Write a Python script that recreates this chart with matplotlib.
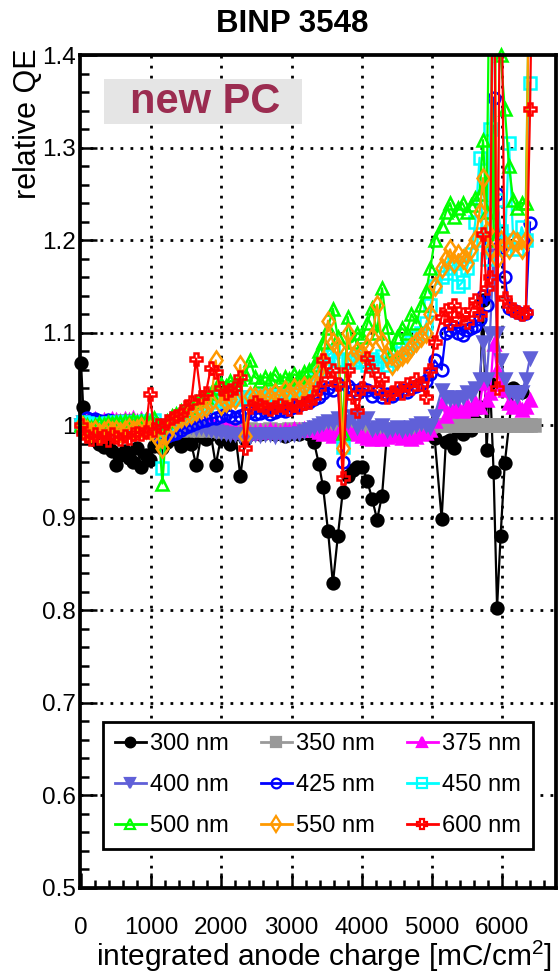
import numpy as np
import matplotlib
matplotlib.use("Agg")
import matplotlib.pyplot as plt
from matplotlib.lines import Line2D
from matplotlib.patches import Rectangle
from matplotlib.ticker import MultipleLocator

plt.rcParams['font.family'] = ['Liberation Sans', 'DejaVu Sans']
plt.rcParams['mathtext.fontset'] = 'custom'
plt.rcParams['mathtext.rm'] = 'Liberation Sans'

nan = np.nan

# integrated anode charge [mC/cm^2]
charge = [0, 30, 80, 140, 200, 260, 320, 380, 440, 500,
          560, 620, 680, 740, 800, 860, 920, 980, 1040, 1100,
          1160, 1220, 1290, 1360, 1430, 1500, 1570, 1640, 1710, 1780,
          1850, 1920, 1990, 2060, 2130, 2200, 2270, 2340, 2410, 2480,
          2550, 2620, 2690, 2760, 2830, 2900, 2970, 3040, 3110, 3180,
          3250, 3320, 3390, 3450, 3520, 3590, 3660, 3730, 3800, 3870,
          3940, 4010, 4080, 4150, 4220, 4290, 4360, 4430, 4500, 4570,
          4640, 4710, 4780, 4850, 4920, 4980, 5040, 5140, 5200, 5260,
          5320, 5380, 5440, 5500, 5560, 5620, 5680, 5730, 5780, 5830,
          5880, 5930, 5980, 6040, 6100, 6160, 6220, 6280, 6340, 6400,
          6450]

qe_300 = [1.067, 1.020, 0.995, 0.988, 0.984, 0.980, 0.976, 0.978, 0.972, 0.957,
          0.968, 0.972, 0.965, 0.960, 0.975, 0.955, 0.968, 0.962, 0.978, 0.985,
          0.975, 0.982, 0.988, 0.985, 0.978, 0.985, 0.980, 0.957, 0.988, 0.985,
          0.990, 0.957, 0.985, 0.988, 0.980, 0.990, 0.945, 0.985, 0.990, 0.992,
          0.990, 0.992, 0.993, 0.990, 0.992, 0.988, 0.990, 0.992, 0.990, 0.993,
          0.990, 0.982, 0.958, 0.933, 0.886, 0.829, 0.880, 0.928, 0.945, 0.952,
          0.955, 0.955, 0.940, 0.920, 0.898, 0.924, 0.990, 0.995, 0.992, 0.995,
          0.993, 0.996, 0.995, 0.992, 0.995, 0.990, 0.986, 0.899, 0.982, 0.984,
          0.975, 0.995, 0.990, 1.002, 0.995, 1.005, 1.020, 1.135, 0.973, 1.046,
          0.950, 0.803, 0.880, 0.959, 1.000, 1.040, 1.037, 1.036, nan, nan,
          nan]

qe_350 = [1.000, 0.998, 0.996, 0.995, 0.996, 0.994, 0.995, 0.996, 0.995, 0.994,
          0.995, 0.996, 0.995, 0.994, 0.996, 0.995, 0.996, 0.995, 0.994, 0.993,
          0.992, 0.994, 0.995, 0.996, 0.995, 0.996, 0.997, 0.995, 0.996, 0.995,
          0.996, 0.995, 0.994, 0.995, 0.996, 0.995, 0.994, 0.995, 0.996, 0.995,
          0.994, 0.995, 0.996, 0.995, 0.994, 0.995, 0.996, 0.995, 0.996, 0.995,
          0.996, 0.995, 0.994, 0.995, 0.996, 0.995, 0.994, 0.993, 0.995, 0.996,
          0.995, 0.996, 0.995, 0.994, 0.995, 0.996, 0.995, 0.996, 0.995, 0.996,
          0.996, 0.997, 0.996, 0.997, 0.998, 0.999, 1.000, 1.000, 1.000, 1.000,
          1.000, 1.000, 1.000, 1.000, 1.000, 1.000, 1.000, 1.000, 1.000, 1.000,
          1.000, 1.000, 1.000, 1.000, 1.000, 1.000, 1.000, 1.000, 1.000, 1.000,
          1.000]

qe_375 = [1.000, 1.004, 1.006, 1.005, 1.007, 1.004, 1.006, 1.005, 1.007, 1.006,
          1.005, 1.007, 1.006, 1.008, 1.005, 1.007, 1.006, 1.004, 1.003, 1.000,
          0.998, 1.002, 1.004, 1.003, 1.005, 1.002, 1.004, 1.003, 1.002, 1.004,
          1.003, 1.001, 1.000, 0.998, 0.996, 0.995, 0.993, 0.994, 0.992, 0.993,
          0.994, 0.993, 0.995, 0.994, 0.993, 0.995, 0.994, 0.996, 0.995, 0.996,
          0.997, 0.995, 0.993, 0.990, 0.992, 0.988, 0.990, 0.992, 0.995, 0.990,
          0.993, 0.988, 0.986, 0.985, 0.987, 0.985, 0.987, 0.990, 0.988, 0.986,
          0.988, 0.985, 0.987, 0.990, 0.992, 0.995, 1.005, 1.024, 1.010, 1.015,
          1.018, 1.020, 1.015, 1.022, 1.018, 1.025, 1.020, 1.046, 1.027, 1.035,
          1.088, 1.060, 1.045, 1.038, 1.024, 1.020, 1.024, 1.016, 1.020, 1.027,
          nan]

qe_400 = [1.000, 1.003, 1.004, 1.003, 1.005, 1.002, 1.004, 1.003, 1.004, 1.002,
          1.003, 1.005, 1.004, 1.003, 1.002, 1.004, 1.003, 1.002, 1.000, 0.998,
          0.995, 0.998, 1.000, 0.999, 0.998, 1.000, 0.999, 0.997, 0.998, 0.996,
          0.995, 0.994, 0.993, 0.992, 0.990, 0.991, 0.989, 0.990, 0.988, 0.990,
          0.989, 0.991, 0.990, 0.988, 0.990, 0.989, 0.991, 0.990, 0.992, 0.994,
          0.996, 0.998, 1.000, 1.002, 1.005, 1.003, 1.008, 1.000, 1.005, 1.010,
          0.998, 1.004, 1.008, 0.996, 0.998, 1.000, 0.995, 0.996, 0.998, 0.995,
          0.997, 0.998, 1.000, 1.002, 1.000, 0.998, 1.010, 1.038, 1.030, 1.028,
          1.030, 1.028, 1.030, 1.036, 1.034, 1.040, 1.050, 1.090, 1.050, 1.100,
          1.184, 1.100, 1.070, 1.050, 1.036, 1.036, 1.032, 1.036, 1.050, 1.073,
          nan]

qe_425 = [1.000, 1.005, 1.008, 1.006, 1.007, 1.005, 1.004, 1.006, 1.005, 1.004,
          1.003, 1.004, 1.002, 1.003, 1.004, 1.002, 1.000, 0.998, 0.992, 0.988,
          0.986, 0.988, 0.990, 0.992, 0.995, 0.998, 1.000, 1.002, 1.005, 1.006,
          1.008, 1.008, 1.010, 1.012, 1.010, 1.008, 1.010, 1.012, 1.014, 1.012,
          1.013, 1.015, 1.012, 1.014, 1.016, 1.015, 1.018, 1.020, 1.022, 1.024,
          1.025, 1.028, 1.030, 1.035, 1.040, 1.038, 1.045, 0.960, 1.042, 1.038,
          1.035, 1.040, 1.038, 1.032, 1.036, 1.030, 1.034, 1.032, 1.035, 1.038,
          1.036, 1.040, 1.042, 1.045, 1.048, 1.055, 1.070, 1.060, 1.100, 1.103,
          1.106, 1.100, 1.097, 1.103, 1.105, 1.107, 1.115, 1.140, 1.130, 1.200,
          1.354, 1.250, 1.192, 1.160, 1.127, 1.125, 1.122, 1.120, 1.121, 1.219,
          nan]

qe_450 = [1.000, 1.003, 1.002, 1.000, 1.001, 0.999, 1.000, 1.002, 1.001, 1.003,
          1.002, 1.004, 1.003, 1.002, 1.004, 1.003, 1.005, 1.004, 1.006, 0.995,
          0.954, 1.000, 1.005, 1.008, 1.010, 1.012, 1.015, 1.018, 1.020, 1.022,
          1.025, 1.028, 1.026, 1.030, 1.028, 1.032, 1.030, 1.028, 1.030, 1.032,
          1.030, 1.033, 1.031, 1.034, 1.032, 1.035, 1.036, 1.038, 1.040, 1.042,
          1.045, 1.050, 1.060, 1.065, 1.075, 1.080, 1.070, 0.976, 1.072, 1.068,
          1.075, 1.070, 1.065, 1.072, 1.068, 1.075, 1.065, 1.070, 1.078, 1.082,
          1.085, 1.090, 1.095, 1.100, 1.110, 1.130, 1.150, 1.160, 1.165, 1.170,
          1.175, 1.150, 1.155, 1.170, 1.185, 1.220, 1.289, 1.200, 1.180, 1.320,
          1.450, 1.243, 1.210, 1.190, 1.305, 1.200, 1.190, 1.214, 1.200, 1.370,
          nan]

qe_500 = [1.000, 1.002, 1.000, 0.998, 1.000, 1.002, 1.001, 1.003, 1.002, 1.004,
          1.003, 1.005, 1.004, 1.006, 1.003, 1.005, 1.006, 1.004, 1.008, 1.000,
          0.937, 1.005, 1.010, 1.012, 1.015, 1.018, 1.020, 1.025, 1.028, 1.030,
          1.035, 1.040, 1.045, 1.042, 1.048, 1.045, 1.050, 1.055, 1.070, 1.052,
          1.048, 1.052, 1.050, 1.055, 1.048, 1.052, 1.050, 1.055, 1.052, 1.058,
          1.060, 1.065, 1.080, 1.090, 1.105, 1.126, 1.095, 0.992, 1.117, 1.090,
          1.100, 1.095, 1.110, 1.127, 1.100, 1.148, 1.106, 1.080, 1.095, 1.105,
          1.100, 1.120, 1.110, 1.130, 1.145, 1.170, 1.200, 1.215, 1.230, 1.240,
          1.225, 1.235, 1.240, 1.230, 1.238, 1.245, 1.250, 1.308, 1.230, 1.550,
          1.200, 1.550, 1.400, 1.342, 1.280, 1.243, 1.235, 1.240, 1.240, 1.550,
          nan]

qe_550 = [1.000, 0.998, 0.995, 0.993, 0.995, 0.992, 0.994, 0.996, 0.994, 0.995,
          0.993, 0.995, 0.997, 0.995, 0.996, 0.998, 0.996, 0.995, 0.992, 0.985,
          0.975, 0.990, 1.000, 1.005, 1.008, 1.010, 1.012, 1.015, 1.018, 1.020,
          1.025, 1.070, 1.022, 1.025, 1.028, 1.028, 1.065, 0.988, 1.032, 1.030,
          1.028, 1.032, 1.030, 1.035, 1.032, 1.038, 1.035, 1.040, 1.038, 1.042,
          1.040, 1.045, 1.060, 1.070, 1.113, 1.090, 1.085, 0.975, 1.100, 1.075,
          1.080, 1.078, 1.085, 1.095, 1.130, 1.090, 1.075, 1.065, 1.070, 1.075,
          1.078, 1.085, 1.090, 1.095, 1.100, 1.120, 1.150, 1.170, 1.180, 1.190,
          1.175, 1.185, 1.180, 1.175, 1.190, 1.200, 1.230, 1.267, 1.210, 1.190,
          1.550, 1.180, 1.200, 1.195, 1.190, 1.200, 1.198, 1.190, 1.200, 1.600,
          nan]

qe_600 = [1.000, 0.992, 0.988, 0.985, 0.990, 0.986, 0.988, 0.984, 0.990, 0.987,
          0.985, 0.988, 0.986, 0.990, 0.992, 0.990, 0.993, 1.034, 0.995, 1.000,
          0.998, 1.005, 1.008, 1.010, 1.012, 1.020, 1.025, 1.072, 1.030, 1.035,
          1.062, 1.058, 1.040, 1.035, 1.038, 1.040, 1.052, 0.975, 1.020, 1.025,
          1.022, 1.020, 1.018, 1.020, 1.022, 1.020, 1.018, 1.022, 1.020, 1.024,
          1.025, 1.030, 1.040, 1.070, 1.050, 1.060, 1.045, 0.943, 1.060, 1.030,
          1.015, 1.040, 1.073, 1.060, 1.040, 1.050, 1.030, 1.035, 1.040, 1.035,
          1.045, 1.040, 1.050, 1.045, 1.030, 1.060, 1.090, 1.117, 1.125, 1.110,
          1.130, 1.115, 1.120, 1.112, 1.125, 1.135, 1.120, 1.207, 1.148, 1.160,
          1.600, 1.040, 1.600, 1.137, 1.130, 1.125, 1.122, 1.120, 1.122, 1.342,
          1.600]

labels = ['300 nm', '350 nm', '375 nm', '400 nm', '425 nm',
          '450 nm', '500 nm', '550 nm', '600 nm']
series = [qe_300, qe_350, qe_375, qe_400, qe_425, qe_450, qe_500, qe_550, qe_600]
colors = ['black', '#999999', '#ff00ff', '#6060d8', '#0000ff',
          '#00ffff', '#00ff00', '#ff9900', '#ff0000']
markers = ['o', 's', '^', 'v', 'o', 's', '^', 'd', 'P']
filled = [True, True, True, True, False, False, False, False, False]

YMIN, YMAX = 0.5, 1.4
XMIN, XMAX = -15, 6770

fig = plt.figure(figsize=(5.58, 9.75), dpi=100)
ax = fig.add_axes([80 / 558, 1 - 888 / 975, 476 / 558, 833 / 975])

x = np.array(charge, dtype=float)
handles = []
for i, (lab, vals, col, mk, fill) in enumerate(zip(labels, series, colors, markers, filled)):
    y = np.array(vals, dtype=float)
    z = 3 + i
    ax.plot(x, y, color=col, lw=1.6, zorder=z)
    ok = np.isfinite(y) & (y >= YMIN) & (y <= YMAX)
    size = 9.5 if mk == 'd' else 8.5
    ax.plot(x[ok], y[ok], ls='none', marker=mk, markersize=size,
            markeredgecolor=col, markeredgewidth=1.8,
            markerfacecolor=col if fill else 'none', clip_on=False, zorder=z)
    handles.append(Line2D([], [], color=col, lw=2.0, ls='-', marker=mk,
                          markersize=size - 1.5, markeredgecolor=col,
                          markeredgewidth=1.6,
                          markerfacecolor=col if fill else 'none'))

ax.set_xlim(XMIN, XMAX)
ax.set_ylim(YMIN, YMAX)

ax.set_xticks(np.arange(0, 7000, 1000))
ax.xaxis.set_minor_locator(MultipleLocator(200))
yt = np.round(np.arange(0.5, 1.41, 0.1), 1)
ax.set_yticks(yt)
ax.set_yticklabels(['1' if abs(v - 1) < 1e-9 else f'{v:.1f}' for v in yt])
ax.yaxis.set_minor_locator(MultipleLocator(0.02))

ax.tick_params(which='both', direction='in', top=False, right=False,
               labelsize=17.5, width=1.8, colors='black')
ax.tick_params(axis='x', which='major', length=11, pad=21)
ax.tick_params(axis='x', which='minor', length=5.5)
ax.tick_params(axis='y', which='major', length=12, pad=3)
ax.tick_params(axis='y', which='minor', length=6.5)

for s in ax.spines.values():
    s.set_linewidth(2.7)
    s.set_zorder(20)

for gx in range(1000, 7000, 1000):
    ax.axvline(gx, color='black', lw=2.0, dashes=(1, 2.6), zorder=1)
for gy in yt[1:-1]:
    ax.axhline(gy, color='black', lw=2.0, dashes=(1, 2.6), zorder=1)

order = [0, 3, 6, 1, 4, 7, 2, 5, 8]
leg = fig.legend([handles[k] for k in order], [labels[k] for k in order],
                 ncol=3, loc='lower left', mode='expand',
                 bbox_to_anchor=(103 / 558, 1 - 849 / 975, 430 / 558, 134 / 975),
                 fontsize=17, frameon=True, fancybox=False, framealpha=1,
                 edgecolor='black', borderpad=0.5, labelspacing=0.8,
                 handlelength=1.3, handletextpad=0.2, columnspacing=1.2,
                 borderaxespad=0)
leg.get_frame().set_linewidth(2.0)
leg.set_zorder(30)

fig.add_artist(Rectangle((104 / 558, 1 - 124 / 975), 198 / 558, 45 / 975,
                         transform=fig.transFigure, facecolor='#e5e5e5',
                         edgecolor='none', zorder=25))
fig.text(205 / 558, 1 - 102 / 975, 'new PC', fontsize=30, fontweight='bold',
         color='#9b2c50', ha='center', va='center', zorder=26)

fig.text(292 / 558, 1 - 24 / 975, 'BINP 3548', fontsize=22.5, fontweight='bold',
         ha='center', va='center')
fig.text(28 / 558, 1 - 48 / 975, 'relative QE', fontsize=22, rotation=90,
         ha='center', va='top')
fig.text(552 / 558, 1 - 966 / 975, r'integrated anode charge [mC/cm$^\mathregular{2}$]',
         fontsize=21.5, ha='right', va='baseline')

fig.savefig('out.png', dpi=100)
